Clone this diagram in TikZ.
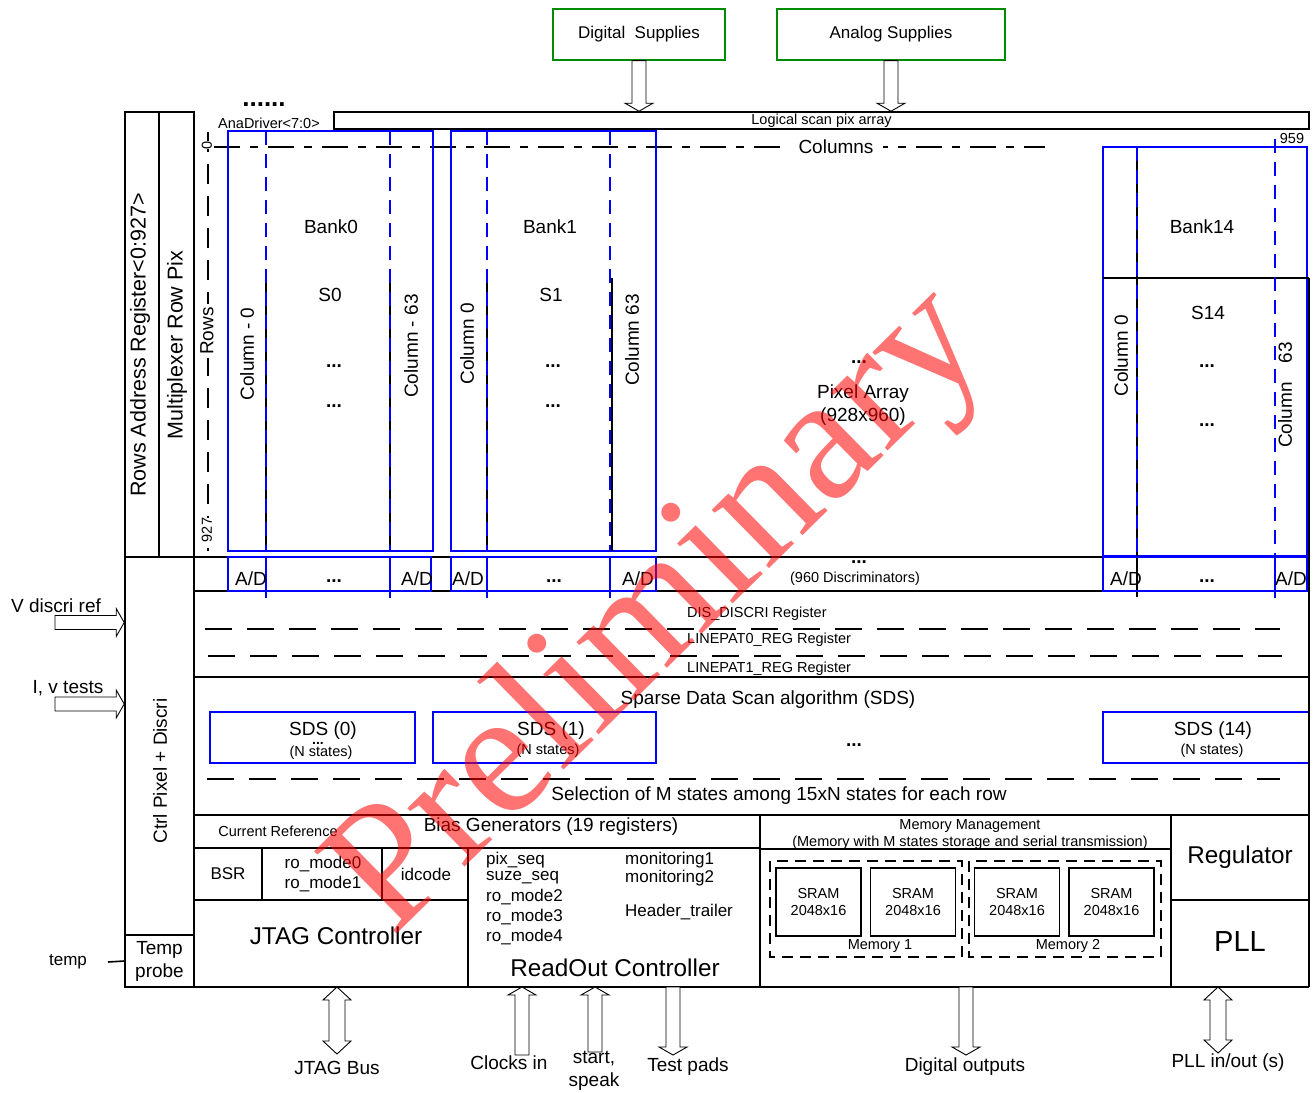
\documentclass[tikz,border=0pt]{standalone}
\usepackage{fontspec}
\setmainfont{Liberation Sans}
\newfontfamily\wmserif{Liberation Serif}
\usetikzlibrary{calc}
\definecolor{supgreen}{RGB}{0,140,0}
\definecolor{bankblue}{RGB}{0,0,255}

\tikzset{
  txtS/.style={font=\fontsize{14.5}{17}\selectfont},
  txtM/.style={font=\fontsize{17}{20}\selectfont},
  txtL/.style={font=\fontsize{19}{23}\selectfont},
  txtR/.style={font=\fontsize{21.5}{24}\selectfont},
  txtT/.style={font=\fontsize{24.3}{28}\selectfont},
  dotsB/.style={font=\bfseries\fontsize{19}{20}\selectfont},
  frame/.style={line width=1.6pt},
  bank/.style={draw=bankblue, line width=1.6pt},
  bankdash/.style={draw=bankblue, line width=1.6pt, dash pattern=on 14pt off 9pt},
  regdash/.style={line width=1.3pt, dash pattern=on 27pt off 15pt},
  memdash/.style={line width=1.3pt, dash pattern=on 11pt off 7pt},
  supply/.style={draw=supgreen, line width=1.3pt, txtM},
  % hollow block arrow, tip at the target
  hollow/.style={draw, line width=0.9pt, fill=white, to path={
    ($(\tikztotarget)!8pt!(\tikztostart)$) coordinate (hb)
    ($(\tikztostart)!7pt!90:(\tikztotarget)$) -- ($(hb)!7pt!90:(\tikztotarget)$)
    -- ($(hb)!14pt!90:(\tikztotarget)$) -- (\tikztotarget)
    -- ($(hb)!14pt!-90:(\tikztotarget)$) -- ($(hb)!7pt!-90:(\tikztotarget)$)
    -- ($(\tikztostart)!7pt!-90:(\tikztotarget)$) -- cycle}},
  % hollow block arrow, tips at both ends
  hollowtwo/.style={draw, line width=0.9pt, fill=white, to path={
    ($(\tikztostart)!13pt!(\tikztotarget)$) coordinate (ha)
    ($(\tikztotarget)!13pt!(\tikztostart)$) coordinate (hb)
    (\tikztostart) -- ($(ha)!14pt!90:(\tikztotarget)$) -- ($(ha)!8pt!90:(\tikztotarget)$)
    -- ($(hb)!8pt!90:(\tikztotarget)$) -- ($(hb)!14pt!90:(\tikztotarget)$) -- (\tikztotarget)
    -- ($(hb)!14pt!-90:(\tikztotarget)$) -- ($(hb)!8pt!-90:(\tikztotarget)$)
    -- ($(ha)!8pt!-90:(\tikztotarget)$) -- ($(ha)!14pt!-90:(\tikztotarget)$) -- cycle}}
}

\begin{document}
\begin{tikzpicture}[x=1pt, y=-1pt, every node/.style={inner sep=0pt}]
  \useasboundingbox (0,0) rectangle (1316,1092);

  % supplies and scan bar
  \node[supply, minimum width=172pt, minimum height=51pt] (digsup) at (639,34.5) {Digital\ \ Supplies};
  \node[supply, minimum width=228pt, minimum height=51pt] (anasup) at (891,34.5) {Analog Supplies};
  \node[draw, frame, minimum width=975pt, minimum height=17pt, txtS] (scanbar) at (821.5,120.5) {Logical scan pix array};
  \coordinate (digin) at (digsup.south |- scanbar.north);
  \coordinate (anain) at (anasup.south |- scanbar.north);
  \draw[hollow] (digsup.south) to (digin);
  \draw[hollow] (anasup.south) to (anain);

  \node[font=\bfseries\fontsize{26}{26}\selectfont, anchor=base] (drvdots) at (264,106) {......};
  \node[txtS, anchor=base] (anadrv) at (269,128) {AnaDriver<7:0>};

  % row registers
  \draw[frame] (125,112) rectangle (159,557);
  \draw[frame] (159,112) rectangle (194,557);
  \node[txtR, rotate=90] (rowaddr) at (140,345) {Rows Address Register<0:927>};
  \node[txtR, rotate=90] (rowmux) at (177,345) {Multiplexer Row Pix};

  % axes
  \draw[line width=1.3pt, dash pattern=on 20pt off 12pt] (208,132) -- (208,551);
  \node[txtS, rotate=90, fill=white] (row0) at (207,145) {0};
  \node[txtL, rotate=90, fill=white, inner sep=3pt] (rowslbl) at (207,331) {Rows};
  \node[txtS, rotate=90, fill=white] (row927) at (207,530) {927};
  \draw[line width=1.3pt, dash pattern=on 26pt off 10pt on 8pt off 10pt] (214,147) -- (1045,147);
  \node[txtL, fill=white, inner xsep=10pt] (collbl) at (836,147) {Columns};
  \node[txtS] (col959) at (1292,139) {959};

  % bank 0
  \draw[bank] (228,131) rectangle (433,551);
  \foreach \cx in {266,390} {
    \draw[line width=1.2pt] (\cx,278) -- (\cx,551);
    \draw[bankdash] (\cx,131) -- (\cx,551);
  }
  \node[txtL] (bank0) at (331,227) {Bank0};
  \node[txtL] (s0) at (330,295) {S0};
  \node[dotsB] (b0dotsa) at (334,366) {...};
  \node[dotsB] (b0dotsb) at (334,406) {...};
  \node[txtL, rotate=90] (b0col0) at (247,354) {Column - 0};
  \node[txtL, rotate=90] (b0col63) at (411,346) {Column - 63};

  % bank 1
  \draw[bank] (451,131) rectangle (656,551);
  \draw[line width=1.2pt] (487,278) -- (487,551);
  \draw[line width=1.2pt] (612,278) -- (612,551);
  \foreach \cx in {487,610}
    \draw[bankdash] (\cx,131) -- (\cx,551);
  \node[txtL] (bank1) at (550,227) {Bank1};
  \node[txtL] (s1) at (551,295) {S1};
  \node[dotsB] (b1dotsa) at (553,366) {...};
  \node[dotsB] (b1dotsb) at (553,406) {...};
  \node[txtL, rotate=90] (b1col0) at (467,344) {Column 0};
  \node[txtL, rotate=90] (b1col63) at (632,340) {Column 63};

  % pixel array centre
  \node[dotsB] (pixdots) at (859,362) {...};
  \node[txtL] (pixarr) at (863,394) {Pixel Array};
  \node[txtL] (pixsize) at (863,417) {(928x960)};

  % bank 14
  \draw[bank] (1103,147) rectangle (1307,556);
  \draw[line width=1.2pt] (1103,278) -- (1309,278);
  \draw[line width=1.2pt] (1309,278) -- (1309,557);
  \draw[line width=1.2pt] (1137,147) -- (1137,597);
  \draw[bankdash] (1137,147) -- (1137,556);
  \draw[bankdash] (1275,139) -- (1275,556);
  \node[txtL] (bank14) at (1202,227) {Bank14};
  \node[txtL] (s14) at (1208,313) {S14};
  \node[dotsB] (b14dotsa) at (1207,366) {...};
  \node[dotsB] (b14dotsb) at (1207,425) {...};
  \node[txtL, rotate=90] (b14col0) at (1121,356) {Column 0};
  \node[txtL, rotate=90] (b14col63) at (1285,395) {Column\hspace{19pt}63};

  % A/D row
  \draw[frame] (194,557) -- (1309,557);
  \draw[frame] (194,591) -- (1309,591);
  \draw[bank] (228,557) rectangle (431,591);
  \draw[bank] (451,557) rectangle (656,591);
  \draw[bank] (1103,557) rectangle (1307,591);
  \foreach \cx in {266,390,487,610,1275}
    \draw[draw=bankblue, line width=1.6pt] (\cx,557) -- (\cx,598);
  \foreach \cx/\ad in {251/ad1,417/ad2,468/ad3,638/ad4,1126/ad5,1291/ad6}
    \node[txtL] (\ad) at (\cx,579) {A/D};
  \foreach \cx/\dd in {334/dd1,554/dd2,1207/dd3}
    \node[dotsB] (\dd) at (\cx,581) {...};
  \node[dotsB] (discdots) at (859,562) {...};
  \node[txtS] (disccnt) at (855,579) {(960 Discriminators)};

  % control column
  \node[draw, frame, minimum width=69pt, minimum height=378pt] (ctrl) at (159.5,746) {};
  \node[txtL, rotate=90] (ctrllbl) at (160,771) {Ctrl Pixel + Discri};
  \node[draw, frame, minimum width=69pt, minimum height=52pt, align=center, font=\fontsize{19}{23}\selectfont] (tempprb) at (159.5,961) {Temp\\probe};
  \node[txtM] (templbl) at (68,962) {temp};
  \coordinate (tempend) at (108,962);
  \draw[frame] (tempend) -- (tempprb.west);

  \node[txtL] (vreflbl) at (56,606) {V discri ref};
  \node[txtL] (ivlbl) at (68,688) {I, v tests};
  \coordinate (vrefsrc) at (55,622.5);
  \coordinate (vrefdst) at (vrefsrc -| ctrl.west);
  \coordinate (ivsrc) at (55,704);
  \coordinate (ivdst) at (ivsrc -| ctrl.west);
  \draw[hollow] (vrefsrc) to (vrefdst);
  \draw[hollow] (ivsrc) to (ivdst);

  % discriminator registers
  \node[txtS, anchor=west] (disreg) at (687,614) {DIS\_DISCRI Register};
  \draw[regdash] (205,629) -- (1280,629);
  \node[txtS, anchor=west] (lp0reg) at (687,640) {LINEPAT0\_REG Register};
  \draw[regdash] (208,656) -- (1282,656);
  \node[txtS, anchor=west] (lp1reg) at (687,669) {LINEPAT1\_REG Register};
  \draw[frame] (194,677) -- (1309,677);

  % SDS
  \node[txtL] (sdsttl) at (768,700) {Sparse Data Scan algorithm (SDS)};
  \draw[bank] (210,712) rectangle (415,763);
  \draw[bank] (433,712) rectangle (656,763);
  \draw[bank] (1103,712) rectangle (1309,763);
  \node[txtL] (sds0) at (323,731) {SDS (0)};
  \node[txtS] (sds0n) at (321,753) {(N states)};
  \node[font=\bfseries\fontsize{14}{14}\selectfont] (sds0dots) at (318,743) {...};
  \node[txtL] (sds1) at (551,731) {SDS (1)};
  \node[txtS] (sds1n) at (548,751) {(N states)};
  \node[txtL] (sds14) at (1213,731) {SDS (14)};
  \node[txtS] (sds14n) at (1212,751) {(N states)};
  \node[dotsB] (sdsdots) at (854,745) {...};
  \draw[regdash] (207,779) -- (1280,779);
  \node[txtL] (seltxt) at (779,796) {Selection of M states among 15xN states for each row};
  \draw[frame] (194,815) -- (1309,815);

  % JTAG part
  \draw[frame] (194,848) -- (760,848);
  \node[txtS] (curref) at (278,831) {Current Reference};
  \node[txtL] (biasgen) at (551,827) {Bias Generators (19 registers)};
  \draw[frame] (262,848) -- (262,900);
  \draw[frame] (382,848) -- (382,900);
  \draw[frame] (194,900) -- (468,900);
  \draw[frame] (468,848) -- (468,987);
  \node[txtM] (bsr) at (228,874) {BSR};
  \node[txtM, align=center] (romode01) at (323,874) {ro\_mode0\\ro\_mode1};
  \node[txtM] (idcode) at (426,874) {idcode};
  \node[txtT] (jtagctl) at (336,936) {JTAG Controller};

  % readout part
  \node[txtM, anchor=west] (pixseq) at (486,860) {pix\_seq};
  \node[txtM, anchor=west] (suzeseq) at (486,878) {suze\_seq};
  \node[txtM, anchor=west] (romode2) at (486,897) {ro\_mode2};
  \node[txtM, anchor=west] (romode3) at (486,917) {ro\_mode3};
  \node[txtM, anchor=west] (romode4) at (486,937) {ro\_mode4};
  \node[txtM, anchor=west] (monit1) at (625,860) {monitoring1};
  \node[txtM, anchor=west] (monit2) at (625,878) {monitoring2};
  \node[txtM, anchor=west] (hdrtrl) at (625,912) {Header\_trailer};
  \node[txtT] (rdoctl) at (615,968) {ReadOut Controller};

  % memory part
  \draw[frame] (760,815) -- (760,987);
  \node[txtS] (memmgmt) at (970,826) {Memory Management};
  \node[txtS] (memdesc) at (970,843) {(Memory with M states storage and serial transmission)};
  \draw[frame] (760,849) -- (1171,849);
  \draw[memdash] (770,861) rectangle (962,957);
  \draw[memdash] (969,861) rectangle (1161,957);
  \foreach \cx/\sr in {818.5/sram1,913/sram2,1017/sram3,1111.5/sram4}
    \node[draw, frame, minimum width=85pt, minimum height=68pt, align=center, txtS] (\sr) at (\cx,902) {SRAM\\2048x16};
  \node[txtS] (mem1lbl) at (880,946) {Memory 1};
  \node[txtS] (mem2lbl) at (1068,946) {Memory 2};

  % regulator and PLL
  \draw[frame] (1171,815) -- (1171,987);
  \draw[frame] (1171,900) -- (1309,900);
  \node[txtT] (regltr) at (1240,857) {Regulator};
  \node[font=\fontsize{29}{30}\selectfont] (pll) at (1240,942) {PLL};

  \draw[frame] (125,987) -- (1309,987);
  \draw[frame] (1309,557) -- (1309,987);

  % pads
  \coordinate (jtagport) at (337,987);
  \coordinate (jtagpin) at (337,1054);
  \coordinate (clkport) at (522,987);
  \coordinate (clkpin) at (522,1055);
  \coordinate (startport) at (595,987);
  \coordinate (startpin) at (595,1052);
  \coordinate (testport) at (673,987);
  \coordinate (testpin) at (673,1055);
  \coordinate (doutport) at (966,987);
  \coordinate (doutpin) at (966,1055);
  \coordinate (pllport) at (1218,987);
  \coordinate (pllpin) at (1218,1053);
  \draw[hollowtwo] (jtagport) to (jtagpin);
  \draw[hollow] (clkpin) to (clkport);
  \draw[hollow] (startpin) to (startport);
  \draw[hollow] (testport) to (testpin);
  \draw[hollow] (doutport) to (doutpin);
  \draw[hollowtwo] (pllport) to (pllpin);
  \node[txtL] (jtagbus) at (337,1068) {JTAG Bus};
  \node[txtL] (clkin) at (509,1063) {Clocks in};
  \node[txtL, align=center] (startspk) at (594,1071) {start,\\speak};
  \node[txtL] (testpads) at (688,1067) {Test pads};
  \node[txtL] (digout) at (965,1067) {Digital outputs};
  \node[txtL] (pllio) at (1228,1063) {PLL in/out (s)};

  % watermark
  \node[font=\wmserif\fontsize{178}{178}\selectfont, text=red, text opacity=0.55, rotate=44.5] (wmark) at (662,614) {Preliminary};
\end{tikzpicture}
\end{document}
